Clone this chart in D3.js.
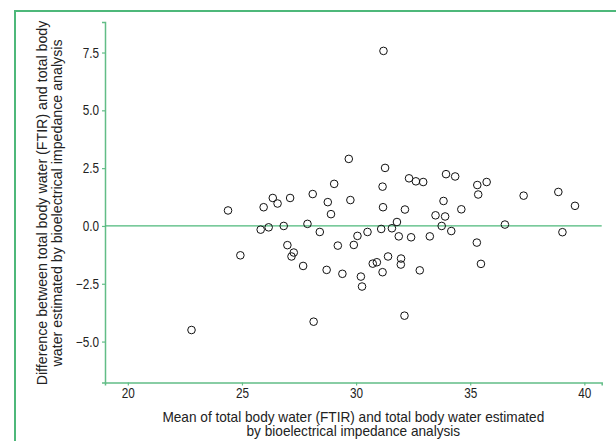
<!DOCTYPE html>
<html>
<head>
<meta charset="utf-8">
<script src="https://cdn.jsdelivr.net/npm/d3@7"></script>
<style>
  body { margin: 0; background: #fff; }
  svg text { font-family: "Liberation Sans", Arial, sans-serif; fill: #222; }
</style>
</head>
<body>
<div id="chart"></div>
<script>
// mean of the two methods (x) and their difference (y)
var meanVals = [22.79, 24.39, 24.93, 25.82, 25.95, 26.17, 26.35, 26.56, 26.83, 26.99,
    27.11, 27.17, 27.27, 27.68, 27.87, 28.10, 28.14, 28.41, 28.71, 28.76,
    28.90, 29.04, 29.20, 29.40, 29.68, 29.75, 29.90, 30.06, 30.21, 30.26,
    30.50, 30.73, 30.91, 31.10, 31.16, 31.16, 31.18, 31.20, 31.27, 31.40,
    31.57, 31.79, 31.87, 31.96, 31.97, 32.12, 32.14, 32.32, 32.41, 32.62,
    32.79, 32.94, 33.23, 33.48, 33.75, 33.83, 33.90, 33.94, 34.17, 34.34,
    34.61, 35.29, 35.31, 35.35, 35.47, 35.72, 36.52, 37.34, 38.86, 39.04, 39.59];
var diffVals = [-4.50, 0.67, -1.27, -0.16, 0.81, -0.06, 1.21, 0.97, 0.00, -0.83,
    1.21, -1.32, -1.15, -1.73, 0.09, 1.38, -4.14, -0.26, -1.90, 1.03,
    0.51, 1.82, -0.85, -2.07, 2.90, 1.12, -0.82, -0.43, -2.19, -2.62,
    -0.26, -1.63, -1.57, -0.13, -2.00, 1.70, 0.81, 7.57, 2.51, -1.32,
    -0.10, 0.17, -0.45, -1.67, -1.41, -3.88, 0.71, 2.06, -0.49, 1.93,
    -1.92, 1.90, -0.45, 0.46, 0.00, 1.08, 0.41, 2.24, -0.22, 2.14,
    0.72, -0.72, 1.77, 1.36, -1.64, 1.90, 0.06, 1.31, 1.47, -0.27, 0.87];
var xTicks = [20, 25, 30, 35, 40];
var yTicks = [-5, -2.5, 0, 2.5, 5, 7.5];
var xTitle = ["Mean of total body water (FTIR) and total body water estimated",
    "by bioelectrical impedance analysis"];
var yTitle = ["Difference between total body water (FTIR) and total body",
    "water estimated by bioelectrical impedance analysis"];

var w = 616, h = 441;
var margin = { top: 22, right: 14.3, bottom: 58.5, left: 105 };
var frameColor = "#4db87a", axisColor = "#62bd86";

var svg = d3.select("#chart").append("svg")
    .attr("width", w)
    .attr("height", h);

// outer frame (top and left edges only)
svg.append("path")
    .attr("d", "M15,441 L15,11 L616,11")
    .attr("fill", "none")
    .attr("stroke", frameColor)
    .attr("stroke-width", 2);

var x = d3.scaleLinear().domain([19, 40.76]).range([margin.left, w - margin.right]);
var y = d3.scaleLinear().domain([-6.77, 8.82]).range([h - margin.bottom, margin.top]);

var xAxis = svg.append("g")
    .attr("transform", "translate(0," + (h - margin.bottom) + ")")
    .call(d3.axisBottom(x).tickValues(xTicks).tickSize(3).tickPadding(3).tickFormat(d3.format("d")));
var yAxis = svg.append("g")
    .attr("transform", "translate(" + margin.left + ",0)")
    .call(d3.axisLeft(y).tickValues(yTicks).tickSize(3).tickPadding(3).tickFormat(d3.format(".1f")));

[xAxis, yAxis].forEach(function (g) {
    g.select(".domain").attr("stroke", axisColor).attr("stroke-width", 1.5);
    g.selectAll(".tick line").attr("stroke", axisColor).attr("stroke-width", 1.2);
    g.selectAll(".tick text").attr("font-size", 14).attr("fill", "#222");
});

// zero line
svg.append("line")
    .attr("x1", x(19)).attr("x2", x(40.76))
    .attr("y1", y(0)).attr("y2", y(0))
    .attr("stroke", frameColor)
    .attr("stroke-width", 1.3);

// points
svg.append("g").selectAll("circle")
    .data(meanVals.map(function (m, i) { return [m, diffVals[i]]; }))
    .enter()
    .append("circle")
    .attr("cx", function (d) { return x(d[0]); })
    .attr("cy", function (d) { return y(d[1]); })
    .attr("r", 3.8)
    .attr("fill", "none")
    .attr("stroke", "#111")
    .attr("stroke-width", 1);

// axis titles
var cx = (x.range()[0] + x.range()[1]) / 2;
svg.append("text")
    .attr("class", "xtitle")
    .attr("text-anchor", "middle")
    .attr("font-size", 14.5)
    .selectAll("tspan")
    .data(xTitle)
    .enter()
    .append("tspan")
    .attr("x", cx)
    .attr("y", function (d, i) { return 421.5 + i * 14.5; })
    .text(function (d) { return d; });

svg.append("text")
    .attr("class", "ytitle")
    .attr("text-anchor", "middle")
    .attr("font-size", 14.5)
    .attr("transform", "translate(0,203) rotate(-90)")
    .selectAll("tspan")
    .data(yTitle)
    .enter()
    .append("tspan")
    .attr("x", 0)
    .attr("y", function (d, i) { return 47 + i * 15; })
    .text(function (d) { return d; });

// squeeze Liberation Sans toward a narrow face
function condense(sel, k) {
    sel.each(function () {
        var len = this.getComputedTextLength();
        d3.select(this)
            .attr("textLength", len * k)
            .attr("lengthAdjust", "spacingAndGlyphs");
    });
}
condense(svg.selectAll(".tick text"), 0.84);
condense(svg.selectAll(".xtitle tspan"), 0.94);
condense(svg.selectAll(".ytitle tspan"), 0.98);
</script>
</body>
</html>
